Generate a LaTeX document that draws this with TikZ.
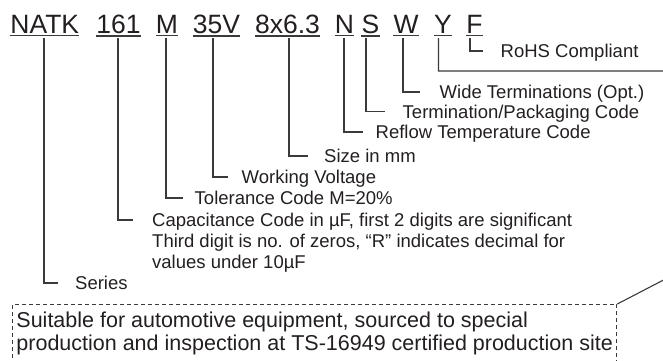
\documentclass[tikz,border=0pt]{standalone}
\usepackage{fontspec}
\setmainfont{Liberation Sans}
\definecolor{txt}{HTML}{231F20}
\definecolor{ln}{HTML}{3A3A3A}
\begin{document}
\begin{tikzpicture}[x=1pt,y=-1pt,
  code/.style={font=\fontsize{26.5}{30}\selectfont, inner sep=0pt, anchor=base, text=txt},
  lbl/.style={font=\fontsize{18.5}{21}\selectfont, inner sep=0pt, anchor=west, text height=13.2pt, text depth=0pt, text=txt},
  uline/.style={line width=1.4pt, draw=ln},
  conn/.style={line width=1.1pt, draw=ln},
  note/.style={draw=ln, line width=0.9pt, dash pattern=on 4pt off 3pt, inner xsep=4pt, inner ysep=7pt, align=left, font=\fontsize{21.5}{23.5}\selectfont, text=txt}]
\useasboundingbox (0,0) rectangle (663,360);
\clip (0,0) rectangle (663,360);
% code letters
\node[code] (natk) at (44.8,33) {NATK};
\node[code] (cap)  at (118.5,33) {161};
\node[code] (tol)  at (167,33) {M};
\node[code] (volt) at (216.5,33) {35V};
\node[code] (size) at (287.5,33) {8x6.3};
\node[code] (rfl)  at (344.5,33) {N};
\node[code] (term) at (370.5,33) {S};
\node[code] (wide) at (406,33) {W};
\node[code] (yy)   at (443,33) {Y};
\node[code] (ff)   at (474.5,33) {F};
\foreach \n in {natk,cap,tol,volt,size,rfl,term,wide,yy,ff}
  \draw[uline] ([yshift=-2.5pt]\n.south west) -- ([yshift=-2.5pt]\n.south east);
% labels
\node[lbl] (lrohs) at (500.5,51) {RoHS Compliant};
\node[lbl] (lwide) at (439.5,92) {Wide Terminations (Opt.)};
\node[lbl] (lterm) at (402.5,111.5) {Termination/Packaging Code};
\node[lbl] (lrfl)  at (375.5,132) {Reflow Temperature Code};
\node[lbl] (lsize) at (324,156) {Size in mm};
\node[lbl] (lvolt) at (241.5,177) {Working Voltage};
\node[lbl] (ltol)  at (194.5,198) {Tolerance Code M=20\%};
\node[lbl] (lcap1) at (152,220) {Capacitance Code in µF, first 2 digits are significant};
\node[lbl] (lcap2) at (152,241) {Third digit is no. of zeros, “R” indicates decimal for};
\node[lbl] (lcap3) at (152,262) {values under 10µF};
\node[lbl] (lser)  at (75,283) {Series};
% note box
\node[note, anchor=north west] (note) at (12,304) {Suitable for automotive equipment, sourced to special\\production and inspection at TS-16949 certified production site};
\coordinate (yR) at (700,71);
\coordinate (yD) at (700,261);
% connectors
\draw[conn] ([xshift=-4.5pt,yshift=-5pt]ff.south) |- ([xshift=-17.5pt]lrohs.west);
\draw[conn] ([xshift=-4.5pt,yshift=-5pt]yy.south) |- (yR) -- (yD) -- (note.north east);
\draw[conn] ([xshift=-3pt,yshift=-5pt]wide.south) |- ([xshift=-19.5pt]lwide.west);
\draw[conn] ([xshift=-4.5pt,yshift=-5pt]term.south) |- ([xshift=-17.5pt]lterm.west);
\draw[conn] ([xshift=-0.5pt,yshift=-5pt]rfl.south) |- ([xshift=-12.5pt]lrfl.west);
\draw[conn] ([xshift=1.5pt,yshift=-5pt]size.south) |- ([xshift=-16pt]lsize.west);
\draw[conn] ([xshift=-3.5pt,yshift=-5pt]volt.south) |- ([xshift=-13.5pt]lvolt.west);
\draw[conn] ([xshift=-1pt,yshift=-5pt]tol.south) |- ([xshift=-11.5pt]ltol.west);
\draw[conn] ([xshift=-0.5pt,yshift=-5pt]cap.south) |- ([xshift=-19pt]lcap1.west);
\draw[conn] ([xshift=-0.8pt,yshift=-5pt]natk.south) |- ([xshift=-17pt]lser.west);
\end{tikzpicture}
\end{document}
